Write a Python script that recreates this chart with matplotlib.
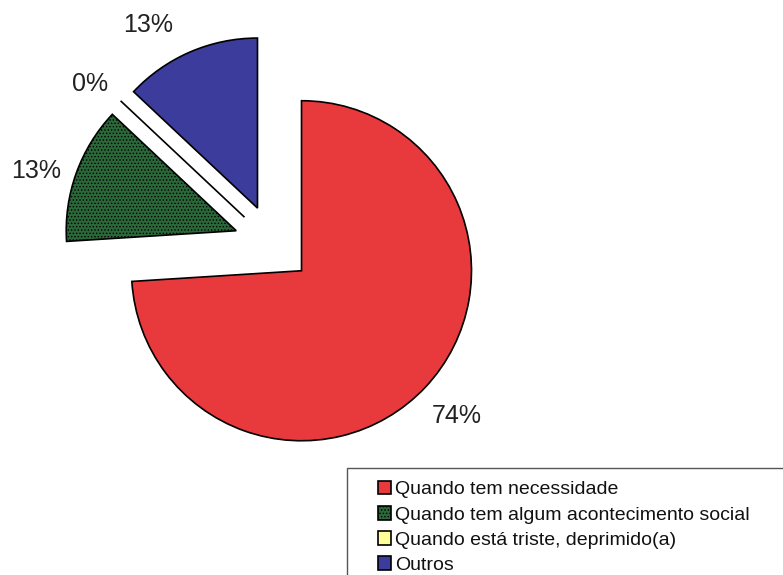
import matplotlib.pyplot as plt
from matplotlib.patches import Rectangle

# Quando costuma beber
labels = ["Quando tem necessidade",
          "Quando tem algum acontecimento social",
          "Quando está triste, deprimido(a)",
          "Outros"]
values = [74, 13, 0, 13]
colors = ["#e8393d", "#2a6839", "#ffff99", "#3c3c9c"]

plt.rcParams['font.family'] = ['Liberation Sans', 'DejaVu Sans']
plt.rcParams['hatch.linewidth'] = 0.6

fig = plt.figure(figsize=(7.83, 5.75), dpi=100)
ax = fig.add_axes([0, 0, 1, 1])

wedges, texts, autotexts = ax.pie(
    values, colors=colors, startangle=90, counterclock=False,
    explode=[0.23] * len(values), autopct='%1.0f%%', pctdistance=1.25,
    wedgeprops={'edgecolor': 'black', 'linewidth': 1.2},
    textprops={'fontsize': 18, 'color': '#222222'})
wedges[1].set_hatch('.....')

# labels on the upper left sit a bit lower, the top one is right aligned
for t in autotexts[1:]:
    t.set_va('top')
autotexts[3].set_ha('right')

ax.set_aspect('auto')
ax.set_xlim(-1.606, 3.0)
ax.set_ylim(-1.947, 1.435)
ax.axis('off')

# legend box runs off the bottom right of the figure
fig.patches.append(Rectangle((347 / 783, -0.1), 0.6, 0.1 + 1 - 468 / 575,
                             transform=fig.transFigure, fill=False,
                             edgecolor='#555555', linewidth=1.0))
leg = fig.legend(wedges, labels, loc='upper left',
                 bbox_to_anchor=(368 / 783, 1 - 471 / 575),
                 frameon=False, fontsize=14, borderpad=0,
                 handlelength=0.7, handleheight=0.7, handletextpad=0.2,
                 labelspacing=0.39)
for t in leg.get_texts():
    t.set_color('#111111')

fig.savefig('out.png', dpi=100)
